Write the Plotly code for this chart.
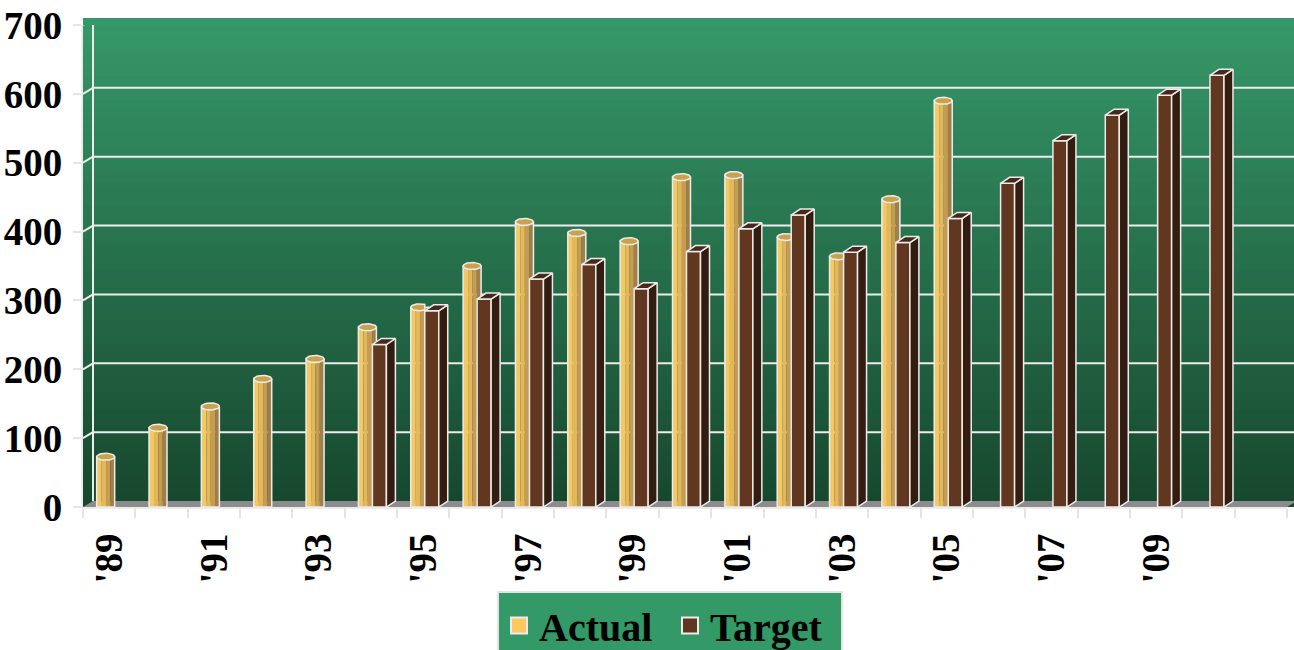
import numpy as np
import plotly.graph_objects as go

# ---------------- data ----------------
actual_years = list(range(1989, 2006))
actual = [73, 115, 146, 186, 215, 261, 290, 350, 414, 398, 386, 479, 482, 392, 364, 447, 590]
target_years = list(range(1994, 2011))
target = [236, 285, 302, 331, 352, 317, 371, 404, 424, 370, 384, 419, 470, 532, 569, 598, 627]
tick_years = list(range(1989, 2010, 2))
tick_labels = ["'89", "'91", "'93", "'95", "'97", "'99", "'01", "'03", "'05", "'07", "'09"]
y_ticks = [0, 100, 200, 300, 400, 500, 600, 700]
series_names = ["Actual", "Target"]

# ---------------- geometry / style ----------------
W, H = 1294, 650
ML, MR, MT, MB = 83, 7, 25, 143
X_RANGE = [1988.5, 2011.5]
Y_RANGE = [0, 700]
PW = W - ML - MR
PH = H - MT - MB
UX = (X_RANGE[1] - X_RANGE[0]) / PW   # years per pixel
UY = (Y_RANGE[1] - Y_RANGE[0]) / PH   # units per pixel
DX, DY = 10, 6                        # wall depth (px)
BDX, BDY = 9, 6                       # bar depth (px)

FONT = dict(family="Liberation Serif, Times New Roman, serif", size=39, color="black", weight="bold")
LFONT = dict(FONT, size=40)
EDGE = "#ececec"

A_W, A_OFF = 18, -12.5     # actual cylinder width / offset (px)
T_W, T_OFF = 14, 1.5       # target front width / offset (px)

fig = go.Figure()

# Actual cylinders: shaded stripes
stripes = [(0.0, 0.28, "#f3c865"), (0.28, 0.52, "#e4b75b"), (0.52, 0.76, "#c69c52"), (0.76, 1.0, "#a08048")]
for f0, f1, c in stripes:
    fig.add_trace(go.Bar(
        x=actual_years, y=actual,
        width=(f1 - f0) * A_W * UX, offset=(A_OFF + f0 * A_W) * UX,
        marker=dict(color=c, line=dict(width=0)),
        showlegend=False, hoverinfo="skip"))
fig.add_trace(go.Bar(
    x=actual_years, y=actual, width=A_W * UX, offset=A_OFF * UX,
    marker=dict(color="rgba(0,0,0,0)", line=dict(color=EDGE, width=1.5)),
    showlegend=False, name="Actual", hovertemplate="%{x}: %{y}<extra>Actual</extra>"))

# Target front faces
fig.add_trace(go.Bar(
    x=target_years, y=target, width=T_W * UX, offset=T_OFF * UX,
    marker=dict(color="#623720", line=dict(color=EDGE, width=1.5)),
    showlegend=False, name="Target", hovertemplate="%{x}: %{y}<extra>Target</extra>"))

# Actual cylinder tops (ellipses), clipped behind target where target is in front
tgt = dict(zip(target_years, target))
t = np.linspace(0, 2 * np.pi, 40)
ex, ey = [], []
for yr, v in zip(actual_years, actual):
    cx = yr + (A_OFF + A_W / 2) * UX
    xs = cx + (A_W / 2) * UX * np.cos(t)
    ys = v + 3.5 * UY * np.sin(t)
    if yr in tgt and tgt[yr] > v - 4 * UY:
        xs = np.minimum(xs, yr + T_OFF * UX)
    ex += list(xs) + [None]
    ey += list(ys) + [None]
fig.add_trace(go.Scatter(x=ex, y=ey, mode="lines", fill="toself", fillcolor="#caa24e",
                         line=dict(color=EDGE, width=1.5), showlegend=False, hoverinfo="skip"))

# Target top and side faces
tx, ty, sx, sy = [], [], [], []
for yr, v in zip(target_years, target):
    L = yr + T_OFF * UX
    R = yr + (T_OFF + T_W) * UX
    ddx, ddy = BDX * UX, BDY * UY
    tx += [L, L + ddx, R + ddx, R, L, None]
    ty += [v, v + ddy, v + ddy, v, v, None]
    sx += [R, R, R + ddx, R + ddx, R, None]
    sy += [0, v, v + ddy, ddy, 0, None]
fig.add_trace(go.Scatter(x=sx, y=sy, mode="lines", fill="toself", fillcolor="#331d10",
                         line=dict(color=EDGE, width=1.5), showlegend=False, hoverinfo="skip"))
fig.add_trace(go.Scatter(x=tx, y=ty, mode="lines", fill="toself", fillcolor="#47281a",
                         line=dict(color=EDGE, width=1.5), showlegend=False, hoverinfo="skip"))

# Legend entries
for nm, c in zip(series_names, ["#fdc85f", "#613520"]):
    fig.add_trace(go.Scatter(x=[None], y=[None], mode="markers", name=nm,
                             marker=dict(symbol="square", size=16, color=c,
                                         line=dict(color=EDGE, width=2))))

# ---------------- background (3D walls) ----------------
shapes = []
top_c = np.array([54, 153, 106])
bot_c = np.array([23, 71, 46])
n = 60
ytop = (PH + DY) / PH
xr = (PW + DX) / PW
for i in range(n):
    f = i / n
    c = bot_c + (top_c - bot_c) * (f + 0.5 / n)
    shapes.append(dict(type="rect", xref="paper", yref="paper", layer="below",
                       x0=0, x1=xr, y0=ytop * f, y1=ytop * (i + 1) / n + 0.002,
                       fillcolor="rgb(%d,%d,%d)" % tuple(c.astype(int)), line=dict(width=0)))
# floor
shapes.append(dict(type="path", xref="paper", yref="y", layer="below",
                   path="M 0,0 L 1,0 L %f,%f L %f,%f Z" % (xr, DY * UY, DX / PW, DY * UY),
                   fillcolor="#8c8c8c", line=dict(width=0)))
# back-wall gridlines + side-wall diagonals
for v in y_ticks[1:]:
    shapes.append(dict(type="line", xref="paper", yref="y", layer="below",
                       x0=DX / PW, x1=xr, y0=v + DY * UY, y1=v + DY * UY,
                       line=dict(color=EDGE, width=2)))
    shapes.append(dict(type="line", xref="paper", yref="y", layer="below",
                       x0=0, x1=DX / PW, y0=v, y1=v + DY * UY,
                       line=dict(color=EDGE, width=2)))
shapes.append(dict(type="line", xref="paper", yref="y", layer="below",
                   x0=DX / PW, x1=DX / PW, y0=DY * UY, y1=700 + DY * UY,
                   line=dict(color=EDGE, width=2)))

fig.update_layout(
    width=W, height=H, autosize=False,
    margin=dict(l=ML, r=MR, t=MT, b=MB, autoexpand=False),
    paper_bgcolor="white", plot_bgcolor="rgba(0,0,0,0)",
    barmode="overlay", font=FONT, shapes=shapes,
    showlegend=True,
    legend=dict(orientation="h", x=(497 - ML) / PW, xanchor="left",
                y=(PH + MT - 591) / PH, yanchor="top",
                bgcolor="#339966", bordercolor="#e4e4e4", borderwidth=2,
                font=LFONT, itemclick=False, entrywidth=126),
    xaxis=dict(range=X_RANGE, tickvals=tick_years, ticktext=tick_labels, tickangle=-90,
               showgrid=False, zeroline=False, showline=True, linecolor=EDGE, linewidth=2,
               ticks="outside", ticklen=9, tickcolor="rgba(0,0,0,0)", tickfont=FONT,
               minor=dict(tick0=1988.5, dtick=1, ticks="outside", ticklen=9,
                          tickcolor="#e4e4e4", tickwidth=2, showgrid=False),
               fixedrange=True),
    yaxis=dict(range=Y_RANGE, tickvals=y_ticks, showgrid=False, zeroline=False,
               showline=True, linecolor=EDGE, linewidth=2,
               ticks="outside", ticklen=8, tickcolor="#e4e4e4", tickwidth=2,
               tickfont=FONT, ticklabelstandoff=3, fixedrange=True),
)

fig.write_html("out.html")
